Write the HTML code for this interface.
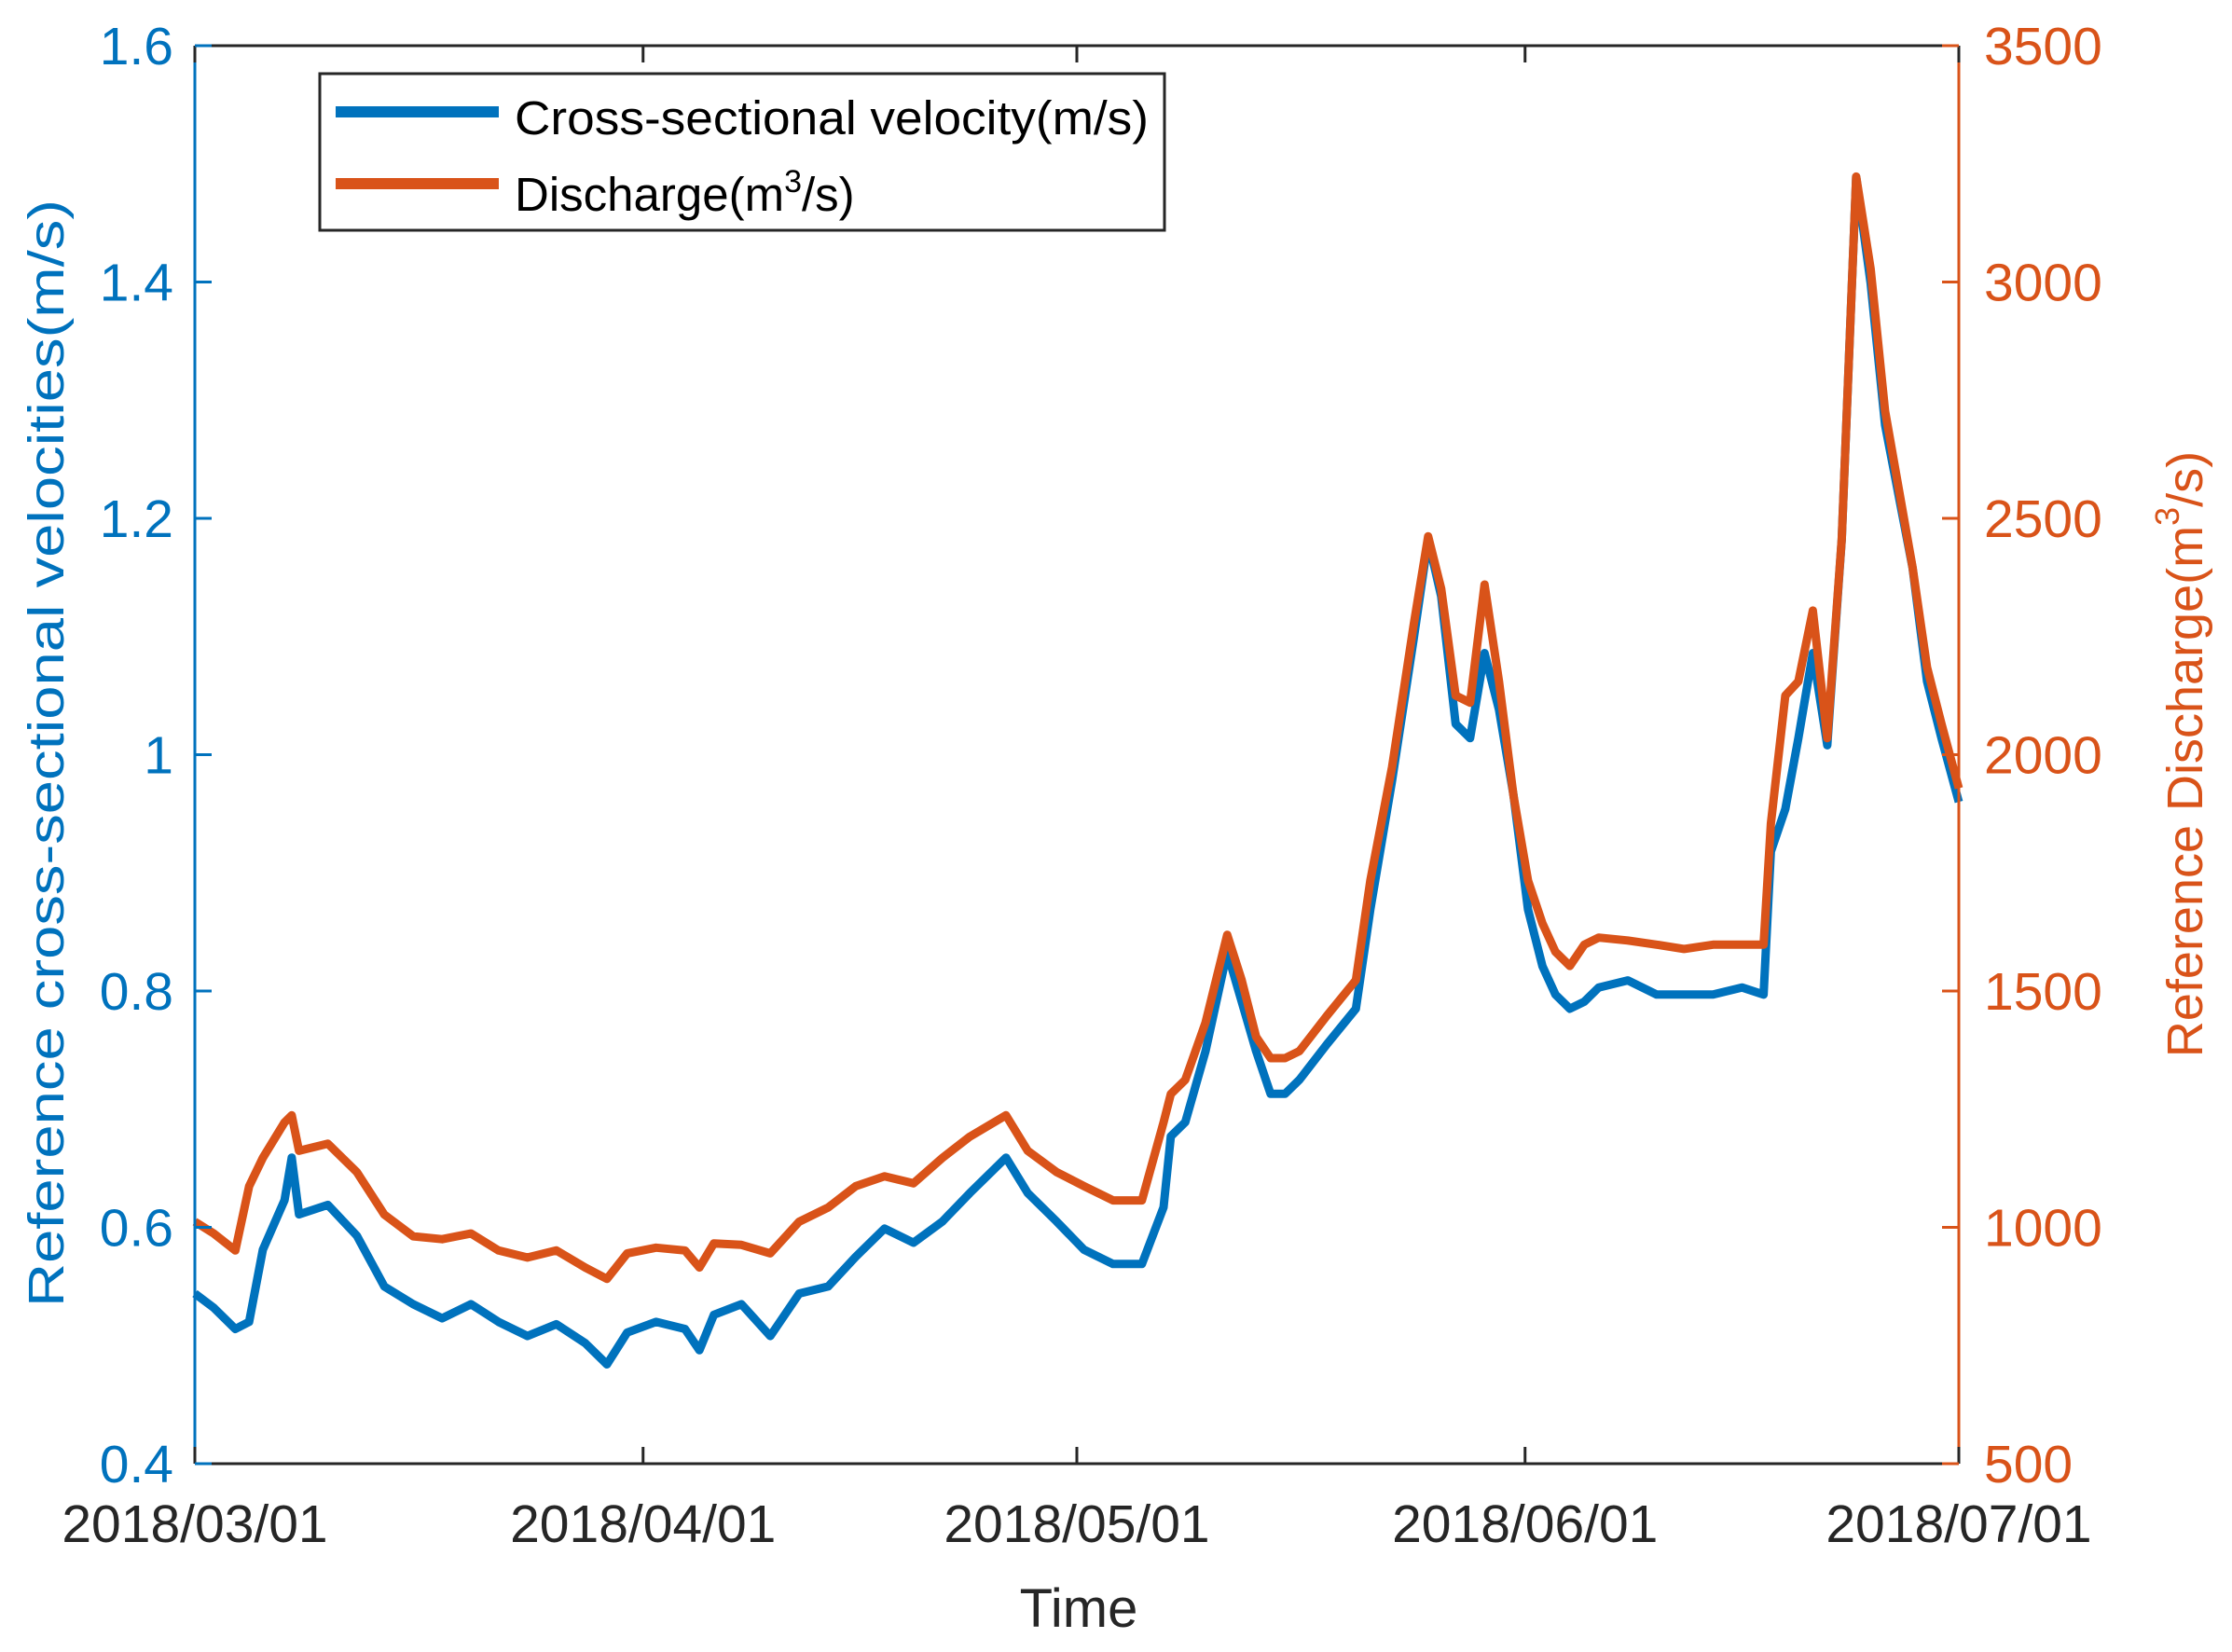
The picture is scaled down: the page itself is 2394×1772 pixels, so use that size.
<!DOCTYPE html>
<html><head><meta charset="utf-8"><style>
html,body{margin:0;padding:0;background:#fff;}
svg{display:block;font-family:"Liberation Sans",Arial,sans-serif;}
</style></head><body>
<svg id="chart" width="2394" height="1772" viewBox="0 0 2394 1772" xmlns="http://www.w3.org/2000/svg">
<rect x="0" y="0" width="2394" height="1772" fill="#fff"/>
<g id="series"></g>
<g id="axes"></g>
<text x="50" y="808" transform="rotate(-90 50 808)" text-anchor="middle" dominant-baseline="central" font-size="54" fill="#0072BD" textLength="1188" lengthAdjust="spacingAndGlyphs">Reference cross-sectional velocities(m/s)</text>
<text x="2344" y="809" transform="rotate(-90 2344 809)" text-anchor="middle" dominant-baseline="central" font-size="54" fill="#D95319">Reference Discharge(m<tspan font-size="36" dy="-20">3</tspan><tspan dy="20">/s)</tspan></text>
<text x="1157" y="1745" text-anchor="middle" font-size="58" fill="#262626">Time</text>
<g>
<rect x="343" y="79" width="906" height="168" fill="#fff" stroke="#262626" stroke-width="3"/>
<line x1="360" y1="120" x2="535" y2="120" stroke="#0072BD" stroke-width="12"/>
<text x="552" y="144" font-size="51" fill="#000" textLength="680" lengthAdjust="spacingAndGlyphs">Cross-sectional velocity(m/s)</text>
<line x1="360" y1="197" x2="535" y2="197" stroke="#D95319" stroke-width="12"/>
<text x="552" y="226" font-size="51" fill="#000">Discharge(m<tspan font-size="34" dy="-20">3</tspan><tspan dy="20">/s)</tspan></text>
</g>
</svg>
<script>
const days = [0,1.3,2.8,3.75,4.7,6.2,6.7,7.2,9.2,11.2,13.1,15.1,17.1,19.1,21.0,23.0,25.0,27.0,28.5,29.9,31.9,33.9,34.9,35.9,37.8,39.8,41.8,43.8,45.7,47.7,49.7,51.7,53.6,56.1,57.6,59.6,61.5,63.5,65.5,67.0,67.5,68.5,69.9,71.4,72.4,73.4,74.4,75.4,76.4,78.3,80.3,81.3,82.8,84.3,85.3,86.2,87.2,88.2,89.2,90.2,91.2,92.2,93.2,94.1,95.1,96.1,97.1,99.1,101.1,103.0,105.0,107.0,108.5,109.0,110.0,110.9,111.9,112.9,113.9,114.9,115.9,116.9,118.8,119.8,120.8,122];
const velocity = [.544,.532,.514,.520,.581,.623,.659,.611,.619,.593,.550,.535,.523,.535,.520,.508,.518,.502,.484,.511,.520,.514,.496,.526,.535,.508,.544,.550,.575,.599,.587,.605,.629,.659,.629,.605,.581,.569,.569,.617,.677,.689,.749,.833,.791,.749,.713,.713,.725,.755,.785,.869,.978,1.098,1.182,1.134,1.026,1.014,1.086,1.038,.966,.869,.821,.797,.785,.791,.803,.809,.797,.797,.797,.803,.797,.918,.954,1.014,1.086,1.008,1.182,1.489,1.399,1.279,1.158,1.062,1.014,.960];
const discharge = [1012,987,951,1087,1147,1222,1237,1162,1177,1117,1027,981,975,987,951,936,951,915,891,945,957,951,915,966,963,945,1012,1042,1087,1108,1093,1147,1192,1237,1162,1117,1087,1057,1057,1222,1282,1312,1433,1619,1523,1403,1358,1358,1373,1448,1523,1734,1974,2275,2462,2351,2125,2110,2360,2155,1914,1734,1643,1583,1553,1598,1613,1607,1598,1589,1598,1598,1598,1854,2125,2155,2305,2035,2456,3223,3028,2727,2396,2185,2065,1929];
const xTickDays = [0,31,61,92,122];
const xTickLabels = ["2018/03/01","2018/04/01","2018/05/01","2018/06/01","2018/07/01"];
const leftTicks = [0.4,0.6,0.8,1,1.2,1.4,1.6];
const leftTickLabels = ["0.4","0.6","0.8","1","1.2","1.4","1.6"];
const rightTicks = [500,1000,1500,2000,2500,3000,3500];
const rightTickLabels = ["500","1000","1500","2000","2500","3000","3500"];

const L=209,R=2101,T=49,B=1570;
const xs = d => L + d/122*(R-L);
const yv = v => B - (v-0.4)/1.2*(B-T);
const yq = q => B - (q-500)/3000*(B-T);
const NS="http://www.w3.org/2000/svg";
const ser=document.getElementById('series'), axg=document.getElementById('axes');
function mk(tag, attrs, parent){const e=document.createElementNS(NS,tag);for(const k in attrs)e.setAttribute(k,attrs[k]);parent.appendChild(e);return e;}

const vp = mk('polyline',{points:days.map((d,i)=>xs(d).toFixed(1)+','+yv(velocity[i]).toFixed(1)).join(' '),fill:'none',stroke:'#0072BD','stroke-width':9,'stroke-linejoin':'round'},ser);


const qp = mk('polyline',{points:days.map((d,i)=>xs(d).toFixed(1)+','+yq(discharge[i]).toFixed(1)).join(' '),fill:'none',stroke:'#D95319','stroke-width':9,'stroke-linejoin':'round'},ser);



const topLine=mk('line',{x1:L,y1:T,x2:R,y2:T,stroke:'#262626','stroke-width':3},axg);


const botLine=mk('line',{x1:L,y1:B,x2:R,y2:B,stroke:'#262626','stroke-width':3},axg);


const leftLine=mk('line',{x1:L,y1:T,x2:L,y2:B,stroke:'#0072BD','stroke-width':3},axg);


const rightLine=mk('line',{x1:R,y1:T,x2:R,y2:B,stroke:'#D95319','stroke-width':3},axg);



xTickDays.forEach((d,i)=>{
  const x=xs(d);
  const t1=mk('line',{x1:x,y1:B,x2:x,y2:B-18,stroke:'#262626','stroke-width':3},axg);
  
  
  const t2=mk('line',{x1:x,y1:T,x2:x,y2:T+18,stroke:'#262626','stroke-width':3},axg);
  
  
  const tx=mk('text',{x:x,y:1654,'text-anchor':'middle','font-size':57,fill:'#262626'},axg);
  tx.textContent=xTickLabels[i];
  
  
});
leftTicks.forEach((v,i)=>{
  const y=yv(v);
  const t=mk('line',{x1:L,y1:y,x2:L+18,y2:y,stroke:'#0072BD','stroke-width':3},axg);
  
  
  const tx=mk('text',{x:186,y:y+20,'text-anchor':'end','font-size':57,fill:'#0072BD'},axg);
  tx.textContent=leftTickLabels[i];
  
  
});
rightTicks.forEach((q,i)=>{
  const y=yq(q);
  const t=mk('line',{x1:R,y1:y,x2:R-18,y2:y,stroke:'#D95319','stroke-width':3},axg);
  
  
  const tx=mk('text',{x:2128,y:y+20,'text-anchor':'start','font-size':57,fill:'#D95319'},axg);
  tx.textContent=rightTickLabels[i];
  
  
});
</script>
</body></html>
